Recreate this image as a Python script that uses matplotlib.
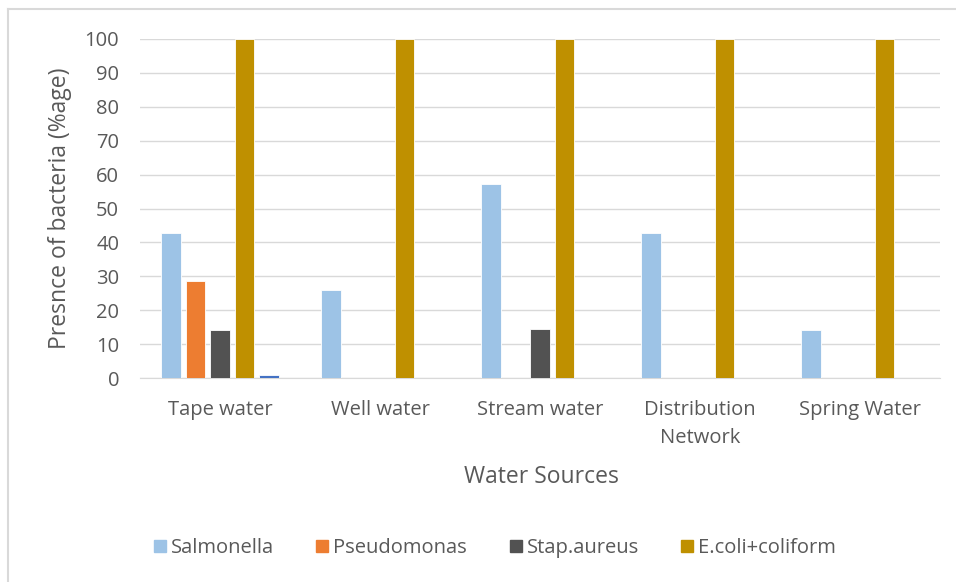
import matplotlib
matplotlib.use("Agg")
import matplotlib.pyplot as plt
from matplotlib.lines import Line2D
import numpy as np

plt.rcParams['font.family'] = ['Open Sans', 'DejaVu Sans']

# Data
categories = ["Tape water", "Well water", "Stream water", "Distribution\nNetwork", "Spring Water"]
salmonella = [42.9, 26.0, 57.1, 42.9, 14.3]
pseudomonas = [28.6, 0, 0, 0, 0]
stap_aureus = [14.3, 0, 14.5, 0, 0]
ecoli_coliform = [100, 100, 100, 100, 100]
unnamed_series = [1.0, 0, 0, 0, 0]

series_names = ["Salmonella", "Pseudomonas", "Stap.aureus", "E.coli+coliform", None]
series_values = [salmonella, pseudomonas, stap_aureus, ecoli_coliform, unnamed_series]
colors = ["#9DC3E6", "#ED7D31", "#525252", "#BF9000", "#4472C4"]

W, H = 956, 582
fig = plt.figure(figsize=(W / 100, H / 100), dpi=100)
fig.patch.set_facecolor("white")

ax = fig.add_axes([140 / W, (H - 378) / H, 800 / W, 339 / H])

x = np.arange(len(categories))
slot = 24.6 / 160
bar_w = 19.5 / 160
offsets = (np.arange(5) - 2) * slot

for vals, off, col in zip(series_values, offsets, colors):
    ax.bar(x + off, vals, width=bar_w, color=col, edgecolor="white", linewidth=0.6, zorder=3)

ax.set_xlim(-0.5, len(categories) - 0.5)
ax.set_ylim(0, 100)
ax.set_yticks(np.arange(0, 101, 10))
ax.set_xticks(x)
ax.set_xticklabels(categories, fontsize=14.5, color="#595959", linespacing=1.5)
ax.tick_params(axis="y", labelsize=14.5, labelcolor="#595959", length=0, pad=15)
ax.tick_params(axis="x", length=0, pad=16)
ax.grid(axis="y", color="#D9D9D9", linewidth=1, zorder=0)
for s in ["top", "right", "left"]:
    ax.spines[s].set_visible(False)
ax.spines["bottom"].set_color("#D9D9D9")
ax.spines["bottom"].set_zorder(1)

fig.text(60 / W, 1 - 208 / H, "Presnce of bacteria (%age)", rotation=90, ha="center", va="center",
         fontsize=16.5, color="#595959")
fig.text(541 / W, 1 - 477 / H, "Water Sources", ha="center", va="center", fontsize=16.5, color="#595959")

handles = [Line2D([0], [0], marker="s", linestyle="none", markersize=8,
                  markerfacecolor=c, markeredgecolor=c)
           for c, n in zip(colors, series_names) if n]
labels = [n for n in series_names if n]
fig.legend(handles, labels, loc="center", bbox_to_anchor=(494 / W, 1 - 548 / H), ncol=4,
           frameon=False, fontsize=14.5, labelcolor="#595959", handletextpad=0.15,
           columnspacing=2.0, handlelength=0.8)

# chart frame (top and left edges)
fig.add_artist(Line2D([8 / W, 1], [1 - 9 / H, 1 - 9 / H], color="#D9D9D9", lw=1.5, transform=fig.transFigure))
fig.add_artist(Line2D([8 / W, 8 / W], [0, 1 - 9 / H], color="#D9D9D9", lw=1.5, transform=fig.transFigure))

fig.savefig("out.png", dpi=100)
